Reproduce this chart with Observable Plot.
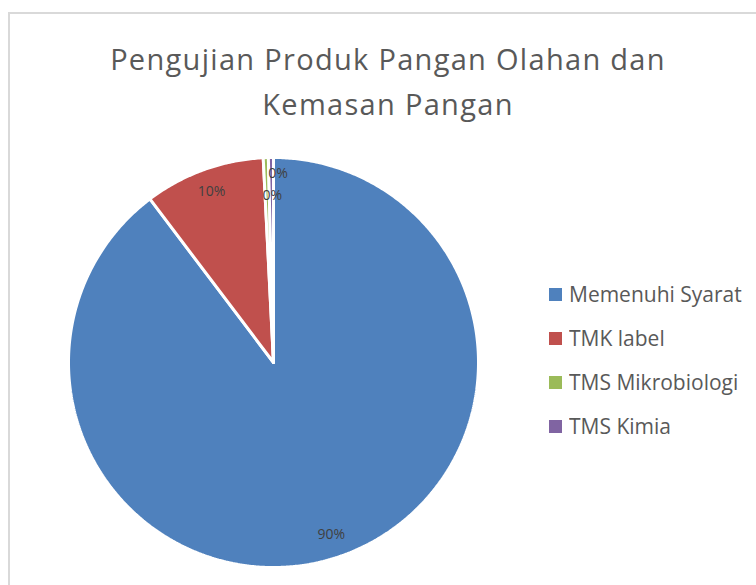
<!DOCTYPE html>
<html>
<head>
<meta charset="utf-8">
<script src="https://cdn.jsdelivr.net/npm/d3@7"></script>
<script src="https://cdn.jsdelivr.net/npm/@observablehq/plot@0.6"></script>
<style>
  html, body { margin: 0; padding: 0; background: #fff; }
  #wrap { position: relative; width: 756px; height: 585px; overflow: hidden; font-family: "Open Sans", sans-serif; }
  #border { position: absolute; left: 8px; top: 12px; width: 900px; height: 800px; border: 2px solid #d9d9d9; box-sizing: border-box; }
  #title { position: absolute; left: 88px; width: 600px; top: 36px; text-align: center; font-size: 29px; line-height: 45px; font-weight: 400; color: #595959; letter-spacing: 1.3px; }
  #chart { position: absolute; left: 0; top: 0; }
  #legend { position: absolute; left: 549px; top: 272px; }
  .lg-swatches { margin: 0 !important; }
  .lg-swatch { height: 44px; margin: 0 !important; padding: 0 !important; display: flex; align-items: center; }
  .lg-swatch svg { margin-right: 7px !important; }
  .lg-swatch-label { color: #595959; }
</style>
</head>
<body>
<div id="wrap">
  <div id="border"></div>
  <div id="chart"></div>
  <div id="title">Pengujian Produk Pangan Olahan dan<br>Kemasan Pangan</div>
  <div id="legend"></div>
</div>
<script>
const categories = ["Memenuhi Syarat", "TMK label", "TMS Mikrobiologi", "TMS Kimia"];
const values = [89.7, 9.5, 0.4, 0.4];
const labels = ["90%", "10%", "0%", "0%"];
const colors = ["#4f81bd", "#c0504d", "#9bbb59", "#8064a2"];

// slice geometry from values (angles: 0 at top, clockwise)
const arcs = d3.pie().sort(null).value(d => d)(values);
const polys = [];
arcs.forEach((a, i) => {
  const cat = categories[i];
  polys.push({cat, x: 0, y: 0});
  const n = Math.max(2, Math.ceil((a.endAngle - a.startAngle) / (Math.PI / 360)));
  for (let k = 0; k <= n; k++) {
    const t = a.startAngle + (a.endAngle - a.startAngle) * k / n;
    polys.push({cat, x: Math.sin(t), y: Math.cos(t)});
  }
  polys.push({cat, x: 0, y: 0});
});

// label positions: inside the slice; tiny slices staggered
let smallIdx = 0;
const labelData = arcs.map((a, i) => {
  const mid = (a.startAngle + a.endAngle) / 2;
  let r = 0.885, dx = 0;
  if (values[i] / d3.sum(values) < 0.01) {
    r = smallIdx === 0 ? 0.815 : 0.922;
    dx = smallIdx === 0 ? 5 : 7;
    smallIdx++;
  }
  return {x: r * Math.sin(mid), y: r * Math.cos(mid), text: labels[i], dx};
});

const chart = Plot.plot({
  width: 756,
  height: 585,
  marginLeft: 68,
  marginRight: 278,
  marginTop: 157,
  marginBottom: 18,
  x: {domain: [-1, 1], axis: null},
  y: {domain: [-1, 1], axis: null},
  color: {domain: categories, range: colors},
  style: {background: "transparent", fontFamily: "Open Sans, sans-serif"},
  marks: [
    Plot.line(polys, {x: "x", y: "y", z: "cat", fill: "cat", stroke: "white", strokeWidth: 3, strokeLinejoin: "miter", curve: "linear"}),
    ...labelData.map(d => Plot.text([d], {x: "x", y: "y", text: "text", dx: d.dx, fontSize: 14, fill: "#404040"}))
  ]
});
document.getElementById("chart").appendChild(chart);

const legend = Plot.legend({
  color: {domain: categories, range: colors},
  legend: "swatches",
  columns: 1,
  swatchSize: 13,
  className: "lg",
  style: {fontFamily: "Open Sans, sans-serif", fontSize: "21px", color: "#595959"}
});
document.getElementById("legend").appendChild(legend);
</script>
</body>
</html>
